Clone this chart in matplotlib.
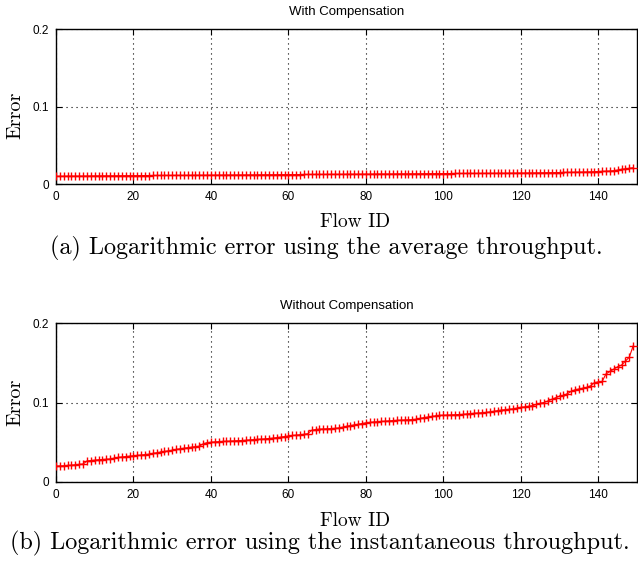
import matplotlib
matplotlib.use("Agg")
import matplotlib.pyplot as plt
import numpy as np

flow_ids = list(range(150))

err_with = [
    0.0100, 0.0101, 0.0101, 0.0102, 0.0102, 0.0103, 0.0103, 0.0103, 0.0104, 0.0104,
    0.0105, 0.0105, 0.0105, 0.0106, 0.0106, 0.0106, 0.0107, 0.0107, 0.0107, 0.0108,
    0.0108, 0.0108, 0.0109, 0.0109, 0.0109, 0.0110, 0.0110, 0.0110, 0.0111, 0.0111,
    0.0111, 0.0112, 0.0112, 0.0112, 0.0113, 0.0113, 0.0113, 0.0114, 0.0114, 0.0114,
    0.0115, 0.0115, 0.0115, 0.0116, 0.0116, 0.0116, 0.0117, 0.0117, 0.0117, 0.0118,
    0.0118, 0.0118, 0.0119, 0.0119, 0.0119, 0.0120, 0.0120, 0.0120, 0.0121, 0.0121,
    0.0121, 0.0122, 0.0122, 0.0122, 0.0123, 0.0123, 0.0123, 0.0124, 0.0124, 0.0124,
    0.0125, 0.0125, 0.0125, 0.0126, 0.0126, 0.0126, 0.0127, 0.0127, 0.0127, 0.0128,
    0.0128, 0.0128, 0.0129, 0.0129, 0.0129, 0.0130, 0.0130, 0.0130, 0.0131, 0.0131,
    0.0131, 0.0132, 0.0132, 0.0132, 0.0133, 0.0133, 0.0133, 0.0134, 0.0134, 0.0134,
    0.0135, 0.0135, 0.0135, 0.0136, 0.0136, 0.0136, 0.0137, 0.0137, 0.0137, 0.0138,
    0.0138, 0.0138, 0.0139, 0.0139, 0.0139, 0.0140, 0.0140, 0.0140, 0.0141, 0.0141,
    0.0142, 0.0142, 0.0143, 0.0143, 0.0144, 0.0144, 0.0145, 0.0146, 0.0146, 0.0147,
    0.0148, 0.0149, 0.0150, 0.0151, 0.0152, 0.0153, 0.0154, 0.0156, 0.0157, 0.0159,
    0.0161, 0.0163, 0.0165, 0.0168, 0.0172, 0.0180, 0.0190, 0.0196, 0.0202, 0.0210,
]

err_without = [
    0.0200, 0.0202, 0.0205, 0.0208, 0.0212, 0.0218, 0.0222, 0.0226, 0.0265, 0.0270,
    0.0275, 0.0280, 0.0283, 0.0286, 0.0290, 0.0300, 0.0310, 0.0315, 0.0320, 0.0325,
    0.0330, 0.0335, 0.0340, 0.0345, 0.0350, 0.0360, 0.0368, 0.0375, 0.0385, 0.0392,
    0.0400, 0.0410, 0.0418, 0.0425, 0.0432, 0.0440, 0.0445, 0.0450, 0.0480, 0.0495,
    0.0500, 0.0505, 0.0508, 0.0510, 0.0512, 0.0515, 0.0518, 0.0520, 0.0522, 0.0525,
    0.0530, 0.0533, 0.0536, 0.0540, 0.0543, 0.0547, 0.0552, 0.0558, 0.0565, 0.0572,
    0.0580, 0.0585, 0.0590, 0.0595, 0.0600, 0.0608, 0.0650, 0.0660, 0.0665, 0.0667,
    0.0670, 0.0672, 0.0675, 0.0680, 0.0690, 0.0700, 0.0710, 0.0718, 0.0725, 0.0735,
    0.0745, 0.0750, 0.0755, 0.0758, 0.0762, 0.0766, 0.0770, 0.0773, 0.0776, 0.0778,
    0.0780, 0.0782, 0.0785, 0.0790, 0.0800, 0.0810, 0.0818, 0.0825, 0.0832, 0.0838,
    0.0840, 0.0843, 0.0845, 0.0847, 0.0849, 0.0851, 0.0855, 0.0860, 0.0865, 0.0868,
    0.0870, 0.0875, 0.0882, 0.0890, 0.0897, 0.0905, 0.0910, 0.0915, 0.0920, 0.0930,
    0.0940, 0.0945, 0.0952, 0.0960, 0.0975, 0.0990, 0.1000, 0.1020, 0.1040, 0.1060,
    0.1080, 0.1090, 0.1110, 0.1140, 0.1160, 0.1170, 0.1180, 0.1190, 0.1210, 0.1250,
    0.1260, 0.1265, 0.1360, 0.1390, 0.1420, 0.1450, 0.1470, 0.1520, 0.1570, 0.1710,
]

x_ticks = [0, 20, 40, 60, 80, 100, 120, 140]
y_ticks = [0, 0.1, 0.2]
y_tick_labels = ["0", "0.1", "0.2"]
titles = ["With Compensation", "Without Compensation"]
captions = ["(a) Logarithmic error using the average throughput.",
            "(b) Logarithmic error using the instantaneous throughput."]

SANS = "Liberation Sans"
SERIF = "cmr10"

fig = plt.figure(figsize=(6.38, 5.62), dpi=100)
W, H = 638, 562

def px_axes(left, top, right, bottom):
    return fig.add_axes([left / W, 1 - bottom / H, (right - left) / W, (bottom - top) / H])

ax1 = px_axes(56, 29, 637, 184)
ax2 = px_axes(56, 323, 637, 482)

ylabel_y = [0.445, 0.5]

for i, (ax, data, title) in enumerate([(ax1, err_with, titles[0]), (ax2, err_without, titles[1])]):
    ax.plot(flow_ids, data, color="red", linestyle="-", linewidth=0.8,
            marker="+", markersize=6, markeredgewidth=1.0, zorder=3)
    ax.set_xlim(0, 150)
    ax.set_ylim(0, 0.2)
    ax.set_xticks(x_ticks)
    ax.set_xticklabels([str(t) for t in x_ticks], fontfamily=SANS, fontsize=8.5)
    ax.set_yticks(y_ticks)
    ax.set_yticklabels(y_tick_labels, fontfamily=SANS, fontsize=8.5)
    ax.tick_params(direction="in", length=4, width=0.8, top=True, right=True, pad=5)
    ax.grid(True, color="black", linestyle=(0, (1, 3.5)), linewidth=0.8)
    for s in ax.spines.values():
        s.set_linewidth(1.0)
    ax.set_title(title, fontfamily=SANS, fontsize=9.5, pad=10)
    ax.set_xlabel("Flow ID", fontfamily=SERIF, fontsize=14)
    ax.xaxis.set_label_coords(0.515, -0.19)
    ax.set_ylabel("Error", fontfamily=SERIF, fontsize=14.5)
    ax.yaxis.set_label_coords(-0.055, ylabel_y[i])

fig.text(326 / W, 1 - 248 / H, captions[0], fontfamily=SERIF, fontsize=17.4,
         ha="center", va="center")
fig.text(320 / W, 1 - 543 / H, captions[1], fontfamily=SERIF, fontsize=17.4,
         ha="center", va="center")

fig.savefig("out.png", dpi=100)
